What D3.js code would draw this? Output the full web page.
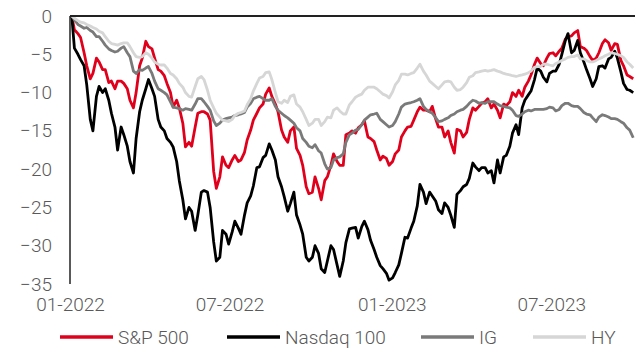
<!DOCTYPE html>
<html>
<head>
<meta charset="utf-8">
<script src="https://cdn.jsdelivr.net/npm/d3@7"></script>
<style>
  html, body { margin: 0; padding: 0; background: #fff; }
  svg { display: block; }
  text { font-family: Roboto, "Liberation Sans", Arial, sans-serif; font-weight: 300; }
</style>
</head>
<body>
<svg id="chart" width="637" height="348"></svg>
<script>
// Drawdown (%) from the start of 2022, read twice a week (Mondays and Thursdays)
const mondays = d3.utcMonday.range(new Date(Date.UTC(2022, 0, 3)), new Date(Date.UTC(2023, 9, 3)));
const thursdays = d3.utcThursday.range(new Date(Date.UTC(2022, 0, 6)), new Date(Date.UTC(2023, 9, 3)));

const sp500Mon = [0, -2.3, -4.8, -8.2, -5.5, -7, -8.7, -9.5, -8.5, -9.5,
  -12, -6.5, -3.3, -4.3, -7, -7.8, -10, -11, -14, -16.5,
  -14.5, -12.5, -12.8, -20.3, -21, -19.5, -18.8, -19, -17.8, -14.9,
  -12.7, -11.5, -9.4, -11.5, -14.9, -16.5, -14.5, -18.2, -22.3, -23,
  -22.5, -21.5, -19.5, -19, -19.5, -15.3, -15.3, -14.2, -15.8, -16.4,
  -18.8, -18.6, -19, -17.5, -15, -14.4, -12.5, -12.3, -12.5, -13.5,
  -14.5, -15, -17.9, -15, -15.2, -12, -11.8, -11.2, -12, -12.3,
  -11.5, -11.2, -10.5, -10.5, -8.5, -6.3, -6.2, -5.5, -4.8, -4.6,
  -3, -2.6, -1.9, -4.2, -5.3, -5.5, -3.6, -3.5, -3.6, -5.8,
  -7.7, -8.2];
const sp500Thu = [-1.8, -2.8, -6.5, -7.5, -6, -7, -8.5, -8.5, -8.8, -11,
  -10, -5.5, -4, -5.5, -7.2, -8.8, -11.9, -12, -17.1, -17,
  -12.7, -12.5, -13.6, -22.5, -18.4, -19.8, -18.2, -18.8, -16.2, -13.6,
  -12, -10.2, -10.5, -12.5, -15.8, -15, -17.3, -19.5, -23.2, -21,
  -24, -21, -18, -19.5, -15.5, -15, -14.6, -13.7, -16, -17.5,
  -18.3, -19.5, -18, -15.8, -14.5, -13.6, -11.9, -12.3, -11.8, -14.5,
  -15.8, -16.5, -14.8, -15.8, -13.5, -12.3, -11.4, -10.8, -11.5, -13.3,
  -11.7, -10, -9.7, -9.3, -7.7, -5.5, -6.5, -4.9, -5.2, -4.2,
  -2.7, -2.2, -4, -4.5, -5.8, -4.8, -3.1, -4.5, -3.7, -6.5,
  -7.9];

const nasdaqMon = [0, -5, -6.5, -13.5, -10.5, -10, -11, -14.5, -14.5, -17,
  -20.5, -12.5, -9.5, -9.5, -13.5, -15, -16.5, -19, -24, -25,
  -28, -23, -23, -29.5, -31.5, -28.5, -28.2, -27.7, -26, -23.5,
  -19.8, -18.5, -16.7, -18.8, -22.3, -25.5, -23, -27.3, -31.5, -31.5,
  -31, -33.5, -30, -32.5, -32, -27.8, -27.6, -27.5, -27.9, -30.5,
  -32.6, -33.6, -34.2, -32.5, -28.9, -27.7, -24.8, -23, -23, -24.2,
  -25.8, -25, -27.6, -22.8, -22, -19.2, -20.2, -19.8, -20.2, -18.8,
  -18.4, -17, -14.2, -12, -10.3, -8.3, -7.2, -8.6, -7.2, -6.3,
  -3.2, -4.8, -3.2, -6, -8.2, -8.2, -6.5, -5.6, -4.6, -7.3,
  -9.6, -10];
const nasdaqThu = [-4.2, -5.7, -9, -15, -9.2, -9.5, -12.7, -17.5, -15.5, -19,
  -16, -11, -8.3, -10.5, -14.5, -16, -17.1, -21.5, -26.5, -25.5,
  -26, -22.8, -25, -32, -28, -29.8, -26.8, -28.5, -24.4, -22.2,
  -19.7, -18.2, -17.5, -21, -23.6, -24.5, -26, -28.5, -32, -30,
  -33, -32, -30.5, -34, -29.6, -27.7, -29, -26.8, -29.3, -31.5,
  -33, -34.5, -33.5, -31, -29, -26.8, -22, -24.5, -23.5, -25.3,
  -24.4, -26, -23.3, -22.3, -21.2, -19.7, -19.8, -20.5, -21.8, -20.5,
  -18.2, -15.3, -15.5, -11, -9.8, -6.8, -8, -7.5, -7.2, -5,
  -2.3, -4.5, -4.8, -7, -9.2, -6.6, -6.8, -5.4, -5.5, -8.8,
  -9.7];

const igMon = [0, -1.1, -1.6, -1.9, -2.7, -3.3, -4.3, -4.7, -4.2, -4.8,
  -7.2, -7, -6.8, -7.5, -9.5, -10, -11.2, -12, -12.3, -12.2,
  -11.5, -10.8, -11.8, -13.7, -14, -13.4, -13.2, -12.9, -12.6, -11.4,
  -10.6, -10.8, -11, -11.8, -12.7, -13.3, -14, -15, -16.5, -17.2,
  -17.6, -19.3, -19.8, -18.5, -18, -15.5, -14.9, -14.2, -13.2, -12.8,
  -13.5, -14.2, -14.3, -12.8, -11.5, -11.3, -11, -11.8, -12.5, -13.3,
  -13.7, -13.3, -12.8, -12.3, -11.8, -11, -11.4, -11.4, -11.2, -11.5,
  -11.8, -12, -13, -12.8, -12.3, -12.2, -12.2, -12.1, -12, -12.2,
  -11.4, -11.7, -11.8, -12.6, -12.9, -13.8, -12.9, -13.2, -13.4, -13.8,
  -14.6, -15.9];
const igThu = [-0.5, -1.3, -1.5, -2.1, -2.7, -3.8, -4.5, -4.6, -4, -5.3,
  -7.5, -7.1, -6.6, -8.5, -9.7, -10.3, -11.9, -12.1, -12.1, -12.3,
  -10.8, -11.2, -12.3, -14.3, -13.6, -13.3, -13, -12.8, -11.9, -10.8,
  -10.5, -11, -10.8, -12.3, -13, -13.6, -14.6, -16, -17, -16.8,
  -17.9, -20, -18.8, -18.4, -16.5, -15.3, -14.8, -13.6, -12.9, -12.7,
  -13.8, -14.5, -13.8, -11.9, -11.4, -11.2, -10.8, -12.2, -12.7, -13.8,
  -13.5, -13, -12.5, -12.2, -11.4, -11.1, -11.3, -11.2, -11.2, -11.7,
  -11.9, -12.3, -13.1, -12.5, -12.4, -12.2, -12.2, -11.9, -12.4, -11.7,
  -11.4, -11.8, -12.1, -12.8, -13.3, -13.2, -13, -13.4, -13.5, -14,
  -14.9];

const hyMon = [0, -0.6, -0.9, -1.3, -1.7, -2.2, -3.3, -3.7, -3.6, -3.5,
  -4.8, -5.4, -4.8, -5.5, -6.3, -6.4, -7.5, -8.2, -9.3, -10.5,
  -9.2, -7.9, -9.7, -12, -13.2, -13.7, -13.5, -12.7, -12.4, -10.8,
  -8.8, -7.9, -7.3, -10, -11.4, -11.3, -10.3, -11.9, -13.5, -14,
  -13.5, -13.8, -13.3, -12, -12.8, -11.6, -10.6, -10.2, -9.3, -9.3,
  -9.9, -10.4, -9.9, -8.4, -7.6, -7.5, -6.8, -7.2, -8.5, -9.2,
  -9, -8.5, -9.3, -9.6, -8.7, -7.8, -7.3, -7.1, -7.1, -7.2,
  -7.5, -7.7, -7.9, -7.7, -7.4, -6.7, -6.6, -6.3, -6.5, -6,
  -5.6, -5.3, -5.1, -5.6, -6, -5.8, -5.4, -5, -4.9, -5.2,
  -6, -6.8];
const hyThu = [-0.3, -0.8, -1.1, -1.5, -2, -2.7, -3.6, -3.8, -3.5, -4,
  -5.3, -5.3, -5, -6, -6.4, -6.8, -7.7, -8.8, -10, -10.6,
  -8.2, -8.3, -11, -12.7, -13.6, -13.8, -13, -12.6, -11.6, -9.8,
  -8.1, -7.4, -8.3, -11.2, -11, -10.5, -11.5, -12.5, -14.3, -13.5,
  -14.3, -13.2, -12.3, -12.4, -12.8, -11.2, -10.4, -9.7, -9.3, -9.5,
  -10.2, -10.7, -9, -7.6, -7.7, -7.4, -6.3, -7.7, -8.8, -9.5,
  -8.6, -8.6, -9.7, -9.3, -8, -7.4, -7.2, -7.2, -7, -7.3,
  -7.6, -7.8, -7.8, -7.6, -7.2, -6.6, -6.3, -6.4, -6.2, -5.8,
  -5.4, -5.3, -5.6, -5.8, -6, -5.6, -5.2, -4.8, -5, -5.4,
  -6.3];

const seriesNames = ["S&P 500", "Nasdaq 100", "IG", "HY"];
const seriesColors = ["#e0001b", "#000000", "#7a7a7a", "#d6d6d6"];
const yTicks = [0, -5, -10, -15, -20, -25, -30, -35];

// pair each value with its date and sort into one time series
function toSeries(mon, thu) {
  const pts = mon.map((v, i) => ({ date: mondays[i], value: v }))
    .concat(thu.map((v, i) => ({ date: thursdays[i], value: v })));
  return pts.sort((a, b) => a.date - b.date);
}
const series = [
  toSeries(sp500Mon, sp500Thu),
  toSeries(nasdaqMon, nasdaqThu),
  toSeries(igMon, igThu),
  toSeries(hyMon, hyThu)
];

const svg = d3.select("#chart");
const plotLeft = 70, plotRight = 635, plotTop = 16, plotBottom = 284;

const x = d3.scaleUtc()
  .domain([new Date(Date.UTC(2022, 0, 1)), new Date(Date.UTC(2023, 9, 4))])
  .range([plotLeft, plotRight]);
const y = d3.scaleLinear().domain([-35, 0]).range([plotBottom, plotTop]);

// y axis labels (no tick marks)
const yAxis = svg.append("g")
  .attr("transform", `translate(${plotLeft},0)`)
  .call(d3.axisLeft(y).tickValues(yTicks).tickSize(0).tickPadding(18).tickFormat(d3.format("d")));
yAxis.select(".domain").remove();
yAxis.selectAll("text")
  .attr("fill", "#595959")
  .style("font-size", "19px");

// x axis labels, placed below the plot
const xAxis = svg.append("g")
  .attr("transform", `translate(0,${plotBottom})`)
  .call(d3.axisBottom(x).ticks(d3.utcMonth.every(6)).tickSize(0).tickPadding(14)
    .tickFormat(d3.utcFormat("%m-%Y")));
xAxis.select(".domain").remove();
xAxis.selectAll("text")
  .attr("fill", "#595959")
  .style("font-size", "19px");

// lines
const line = d3.line()
  .x(d => x(d.date))
  .y(d => y(d.value));

series.forEach((pts, k) => {
  svg.append("path")
    .datum(pts)
    .attr("fill", "none")
    .attr("stroke", seriesColors[k])
    .attr("stroke-width", 2.8)
    .attr("stroke-linejoin", "round")
    .attr("d", line);
});

// frame: vertical axis and the zero line
svg.append("line")
  .attr("x1", plotLeft).attr("x2", plotLeft)
  .attr("y1", y(0)).attr("y2", y(-35))
  .attr("stroke", "#222").attr("stroke-width", 1.5);
svg.append("line")
  .attr("x1", plotLeft).attr("x2", plotRight)
  .attr("y1", y(0)).attr("y2", y(0))
  .attr("stroke", "#222").attr("stroke-width", 1.8);

// legend
const legendX = [60, 227, 421, 533];
const legend = svg.append("g");
seriesNames.forEach((name, k) => {
  const g = legend.append("g").attr("transform", `translate(${legendX[k]},337)`);
  g.append("line").attr("x1", 0).attr("x2", 53).attr("y1", 0).attr("y2", 0)
    .attr("stroke", seriesColors[k]).attr("stroke-width", 3.5);
  g.append("text").attr("x", 58).attr("y", 0).attr("dy", "0.35em")
    .attr("fill", "#595959").style("font-size", "19px").text(name);
});
</script>
</body>
</html>
